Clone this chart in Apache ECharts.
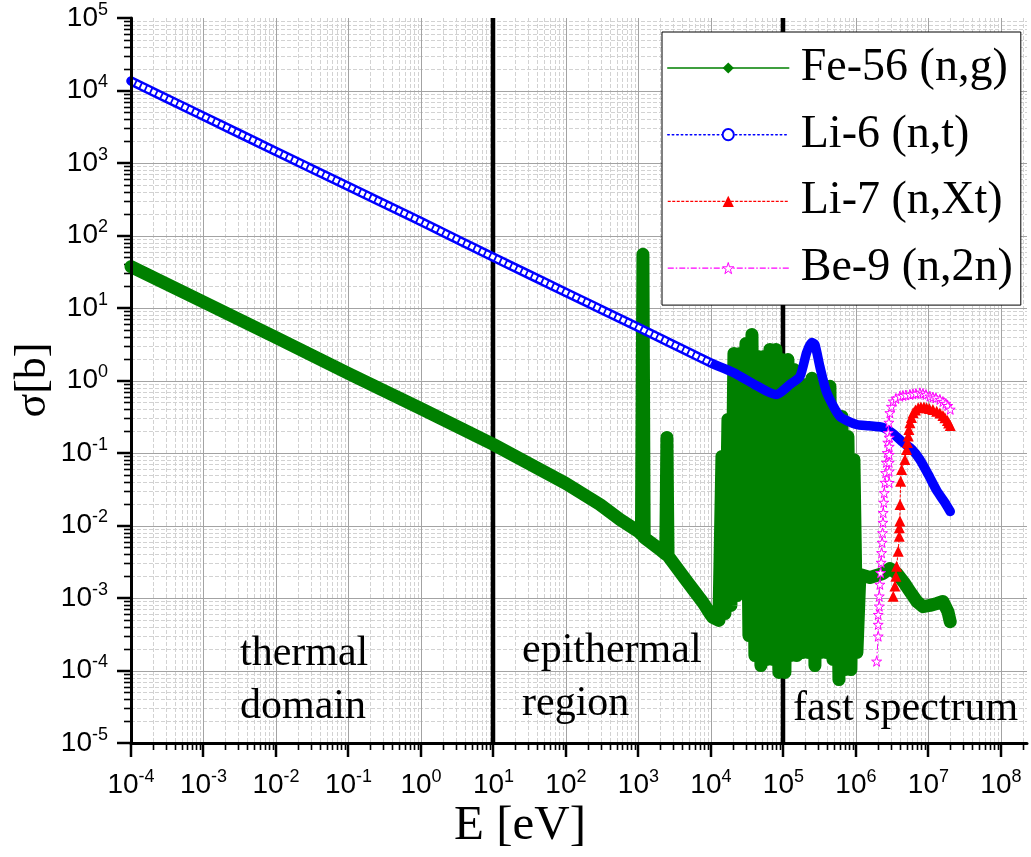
<!DOCTYPE html>
<html><head><meta charset="utf-8">
<script src="https://cdn.jsdelivr.net/npm/echarts@6/dist/echarts.min.js"></script>
<style>html,body{margin:0;padding:0;background:#fff}#c{width:1031px;height:857px}</style>
</head><body><div id="c"></div>
<script>
// ---------- data (energies in eV, cross sections in barn) ----------
const seriesNames = ['Fe-56 (n,g)', 'Li-6 (n,t)', 'Li-7 (n,Xt)', 'Be-9 (n,2n)'];

const feE = [1e-4, 1e-3, 1e-2, 0.1, 1, 10, 100, 294, 556, 1000, 1100, 1153, 1200, 1980, 2380, 2470, 2560, 4670, 7760, 9700,
  1.066e4, 1.289e4, 1.418e4, 1.560e4, 1.716e4, 1.888e4, 2.076e4, 2.284e4, 2.512e4, 2.763e4, 3.04e4, 3.34e4, 3.68e4, 4.04e4, 4.45e4, 4.89e4,
  5.38e4, 5.92e4, 6.51e4, 7.16e4, 7.88e4, 8.67e4, 9.53e4, 1.049e5, 1.154e5, 1.269e5, 1.396e5, 1.535e5, 1.689e5, 1.858e5, 2.043e5, 2.248e5,
  2.473e5, 2.72e5, 2.99e5, 3.29e5, 3.62e5, 3.98e5, 4.38e5, 4.82e5, 5.30e5, 5.83e5, 6.41e5, 7.05e5, 7.76e5, 8.53e5, 9.39e5, 1.032e6,
  1.135e6, 1.56e6, 2.36e6, 2.94e6, 3.68e6, 4.59e6, 5.56e6, 6.94e6, 8.40e6, 1.049e7, 1.31e7, 1.585e7, 1.858e7, 2.0e7];
const feS = [37.3, 12.1, 3.92, 1.25, 0.41, 0.131, 0.038, 0.0195, 0.0121, 0.00826, 0.0075, 55, 0.0068, 0.00467, 0.0040, 0.164, 0.0038, 0.00169, 0.000867, 0.00061,
  5.38e-4, 4.9e-4, 0.0895, 6.1e-4, 0.29, 7.9e-4, 2.36, 1.08e-3, 2.36, 1.8e-3, 3.24, 3.04e-4, 4.31, 1.61e-4, 2.14, 1.17e-4,
  2.14, 1.42e-4, 2.68, 1.42e-4, 2.68, 9.4e-5, 1.95, 9.4e-5, 1.95, 1.61e-4, 1.42, 1.61e-4, 0.83, 1.77e-4, 0.88, 1.77e-4,
  1.07, 1.17e-4, 0.83, 1.77e-4, 0.83, 1.77e-4, 0.83, 1.42e-4, 0.32, 7.5e-5, 0.32, 1.03e-4, 0.169, 1.03e-4, 0.081, 1.77e-4,
  2.11e-3, 1.92e-3, 2.18e-3, 2.55e-3, 2.18e-3, 1.64e-3, 1.23e-3, 8.95e-4, 7.6e-4, 7.9e-4, 8.4e-4, 8.95e-4, 6.5e-4, 4.7e-4];

const li6E = [1e-4, 1e-3, 1e-2, 0.1, 1, 10, 100, 1000, 1e4, 2.03e4, 4e4, 6e4, 8e4, 1.23e5, 1.69e5, 2.09e5, 2.45e5, 2.72e5, 3.18e5, 3.95e5,
  6.01e5, 1.02e6, 1.5e6, 2.36e6, 3.24e6, 4.45e6, 5.92e6, 7.63e6, 1e7, 1.31e7, 1.69e7, 2e7];
const li6S = [1.35e4, 4.42e3, 1.44e3, 474, 156, 50, 16.4, 5.38, 1.74, 1.29, 0.88, 0.705, 0.64, 0.88, 1.135, 2.43, 3.34, 3.14, 1.56, 0.683,
  0.319, 0.247, 0.238, 0.225, 0.186, 0.14, 0.112, 0.081, 0.05, 0.030, 0.0207, 0.0156];

const li7E = [3.27e6, 3.45e6, 3.56e6, 3.64e6, 3.83e6, 3.96e6, 3.98e6, 4.04e6, 4.06e6, 4.14e6, 4.27e6, 4.74e6, 5.0e6, 5.13e6, 5.27e6, 5.38e6,
  5.56e6, 5.83e6, 6.17e6, 6.62e6, 7.23e6, 7.88e6, 8.67e6, 9.44e6, 1.032e7, 1.153e7, 1.30e7, 1.44e7, 1.585e7, 1.69e7, 1.83e7, 1.9e7, 2.0e7];
const li7S = [1.06e-3, 1.46e-3, 2.0e-3, 2.75e-3, 4.42e-3, 7.1e-3, 9.3e-3, 0.0115, 0.0195, 0.0408, 0.0592, 0.0814, 0.112, 0.14, 0.171, 0.211,
  0.261, 0.309, 0.358, 0.392, 0.42, 0.431, 0.431, 0.42, 0.411, 0.398, 0.377, 0.356, 0.329, 0.306, 0.281, 0.26, 0.24];

const be9E = [1.93e6, 2.03e6, 2.03e6, 2.03e6, 2.10e6, 2.10e6, 2.14e6, 2.19e6, 2.23e6, 2.26e6, 2.30e6, 2.33e6, 2.36e6, 2.38e6, 2.42e6, 2.46e6,
  2.51e6, 2.57e6, 2.63e6, 2.70e6, 2.75e6, 2.79e6, 2.85e6, 2.94e6, 3.09e6, 3.27e6, 3.56e6, 4.04e6, 4.45e6, 4.89e6, 5.56e6, 6.11e6, 6.72e6,
  7.63e6, 8.40e6, 9.24e6, 1.049e7, 1.153e7, 1.27e7, 1.44e7, 1.585e7, 1.74e7, 1.85e7, 2.0e7];
const be9S = [1.34e-4, 2.97e-4, 4.31e-4, 5.9e-4, 7.7e-4, 1.06e-3, 1.54e-3, 2.23e-3, 3.09e-3, 4.2e-3, 5.83e-3, 7.9e-3, 0.011, 0.015, 0.0208, 0.0282,
  0.0392, 0.0533, 0.074, 0.1007, 0.14, 0.19, 0.264, 0.358, 0.438, 0.518, 0.565, 0.607, 0.621, 0.631, 0.641, 0.652, 0.662,
  0.676, 0.662, 0.641, 0.607, 0.592, 0.574, 0.547, 0.513, 0.482, 0.45, 0.40];
const be9ColE = [2.88e6, 2.88e6, 2.88e6, 2.88e6, 2.88e6, 2.88e6];
const be9ColS = [0.164, 0.123, 0.095, 0.074, 0.056, 0.039];

const xTickExp = [-4, -3, -2, -1, 0, 1, 2, 3, 4, 5, 6, 7, 8];
const yTickExp = [-5, -4, -3, -2, -1, 0, 1, 2, 3, 4, 5];
const regionBounds = [10, 1e5];
const regionLabels = [['thermal', 'domain'], ['epithermal', 'region'], ['fast spectrum']];

// ---------- build ----------
const X_MIN = -4, X_MAX = 8.36, Y_MIN = -5, Y_MAX = 5;
const lg = Math.log10;
const pts = (E, S) => E.map((e, i) => [lg(e), lg(S[i])]);

const gridItems = [];
xTickExp.forEach(n => gridItems.push([n, 0]));
xTickExp.forEach(n => { for (let k = 2; k <= 9; k++) { const v = n + lg(k); if (v < X_MAX) gridItems.push([v, 1]); } });
yTickExp.forEach(n => gridItems.push([n, 2]));
yTickExp.forEach(n => { for (let k = 2; k <= 9; k++) { const v = n + lg(k); if (v < Y_MAX) gridItems.push([v, 3]); } });
regionBounds.forEach(e => gridItems.push([lg(e), 4]));

function renderGrid(params, api) {
  const cs = params.coordSys;
  const L = cs.x, T = cs.y, R = cs.x + cs.width, B = cs.y + cs.height;
  const pos = api.value(0), kind = api.value(1);
  const ch = [];
  if (kind === 0 || kind === 1 || kind === 4) {
    const x = api.coord([pos, 0])[0];
    const xr = Math.round(x) + 0.5;
    if (kind === 4) {
      ch.push({type: 'line', shape: {x1: Math.round(x), y1: T, x2: Math.round(x), y2: B}, style: {stroke: '#000', lineWidth: 4.5}, z2: 10});
    } else if (kind === 0) {
      if (pos > X_MIN + 1e-6) ch.push({type: 'line', shape: {x1: xr, y1: T, x2: xr, y2: B}, style: {stroke: '#a3a3a3', lineWidth: 1}, z2: 2});
      ch.push({type: 'line', shape: {x1: Math.round(x), y1: B, x2: Math.round(x), y2: B + 14}, style: {stroke: '#000', lineWidth: 2.5}});
    } else {
      ch.push({type: 'line', shape: {x1: xr, y1: T, x2: xr, y2: B}, style: {stroke: '#d2d2d2', lineWidth: 1, lineDash: [4, 2]}, z2: 1});
      ch.push({type: 'line', shape: {x1: xr, y1: B, x2: xr, y2: B + 7}, style: {stroke: '#000', lineWidth: 1.6}});
    }
  } else {
    const y = api.coord([0, pos])[1];
    const yr = Math.round(y) + 0.5;
    if (kind === 2) {
      if (pos > Y_MIN + 1e-6 && pos < Y_MAX - 1e-6) ch.push({type: 'line', shape: {x1: L, y1: yr, x2: R, y2: yr}, style: {stroke: '#a3a3a3', lineWidth: 1}, z2: 2});
      ch.push({type: 'line', shape: {x1: L - 14, y1: Math.round(y), x2: L, y2: Math.round(y)}, style: {stroke: '#000', lineWidth: 2.5}});
    } else {
      ch.push({type: 'line', shape: {x1: L, y1: yr, x2: R, y2: yr}, style: {stroke: '#d2d2d2', lineWidth: 1, lineDash: [4, 2]}, z2: 1});
      ch.push({type: 'line', shape: {x1: L - 7, y1: yr, x2: L, y2: yr}, style: {stroke: '#000', lineWidth: 1.6}});
    }
  }
  return {type: 'group', children: ch};
}

const starPath = 'path://M50,0 L61,35 L98,35 L68,57 L79,91 L50,70 L21,91 L32,57 L2,35 L39,35 Z';
const labFmt = v => { const n = Math.round(v); if (Math.abs(v - n) > 1e-6) return ''; return '{b|10}{s|' + n + '}'; };
const labRich = {
  b: {fontFamily: 'Liberation Sans', fontSize: 28, lineHeight: 34, color: '#000'},
  s: {fontFamily: 'Liberation Sans', fontSize: 18, lineHeight: 14, verticalAlign: 'top', color: '#000'}
};
const serif = '"Liberation Serif", serif';

const texts = [];
const regionPos = [[240, 654], [522, 651], [793, 709]];
regionLabels.forEach((lines, i) => lines.forEach((t, j) => texts.push({
  type: 'text', x: regionPos[i][0], y: regionPos[i][1] + j * 53, z: 50,
  style: {text: t, font: '42px ' + serif, fill: '#000', align: 'left', verticalAlign: 'middle'}
})));
texts.push({type: 'text', x: 520, y: 826, z: 50, style: {text: 'E [eV]', font: '49px ' + serif, fill: '#000', align: 'center', verticalAlign: 'middle'}});
texts.push({type: 'text', x: 33, y: 380, rotation: Math.PI / 2, z: 50, style: {text: 'σ[b]', font: '44px ' + serif, fill: '#000', align: 'center', verticalAlign: 'middle'}});

const option = {
  animation: false,
  backgroundColor: '#fff',
  grid: {left: 131, right: 4, top: 18, bottom: 114, containLabel: false},
  xAxis: {type: 'value', min: X_MIN, max: X_MAX, interval: 1, z: 5,
    axisLine: {show: true, onZero: false, lineStyle: {color: '#000', width: 3}}, axisTick: {show: false}, splitLine: {show: false},
    axisLabel: {margin: 25, formatter: labFmt, rich: labRich, showMaxLabel: false}},
  yAxis: {type: 'value', min: Y_MIN, max: Y_MAX, interval: 1, z: 5,
    axisLine: {show: true, onZero: false, lineStyle: {color: '#000', width: 3}}, axisTick: {show: false}, splitLine: {show: false},
    axisLabel: {margin: 23, formatter: labFmt, rich: labRich}},
  legend: {
    orient: 'vertical', left: 662, top: 32, padding: [10, 8, 11, 5], itemWidth: 121, itemHeight: 14, itemGap: 14.7,
    backgroundColor: '#fff', borderColor: '#000', borderWidth: 1, z: 20, selectedMode: false,
    textStyle: {fontFamily: 'Liberation Serif', fontSize: 46, lineHeight: 52, color: '#000', padding: [0, 0, 0, 7]},
    data: [
      {name: seriesNames[0], lineStyle: {width: 1.5, type: 'solid', color: '#008000'}, itemStyle: {color: '#008000', borderWidth: 0}},
      {name: seriesNames[1], lineStyle: {width: 1.5, type: [1.5, 3], color: '#0000ff'}},
      {name: seriesNames[2], lineStyle: {width: 1.2, type: [3, 1.5], color: '#ff0000'}, itemStyle: {color: '#ff0000', borderWidth: 0}},
      {name: seriesNames[3], lineStyle: {width: 1.2, type: [6, 2, 1.5, 2], color: '#ff00ff'}, itemStyle: {color: '#fff', borderColor: '#ff00ff', borderWidth: 1}}
    ]
  },
  graphic: texts,
  series: [
    {type: 'custom', name: '_grid', coordinateSystem: 'cartesian2d', z: 1, silent: true, data: gridItems, renderItem: renderGrid, clip: false},
    {type: 'line', name: seriesNames[0], data: pts(feE, feS), z: 3, symbol: 'diamond', showSymbol: false,
      itemStyle: {color: '#008000'}, lineStyle: {color: '#008000', width: 13, cap: 'round', join: 'round'}},
    {type: 'line', name: seriesNames[1], data: pts(li6E, li6S), z: 4, symbol: 'emptyCircle', showSymbol: false, smooth: 0.2,
      itemStyle: {color: '#0000ff'}, lineStyle: {color: '#0000ff', width: 9.5, cap: 'round', join: 'round'}},
    {type: 'line', name: '_li6core', data: pts(li6E.slice(0, 9), li6S.slice(0, 9)), z: 4, showSymbol: false, silent: true,
      lineStyle: {color: '#ffffff', width: 4.5, type: [4, 1.8]}},
    {type: 'line', name: seriesNames[2], data: pts(li7E, li7S), z: 5, symbol: 'triangle', symbolSize: 11, showSymbol: true,
      itemStyle: {color: '#ff0000'}, lineStyle: {color: '#ff0000', width: 1, type: [3, 1.5]}},
    {type: 'line', name: seriesNames[3], data: pts(be9E, be9S), z: 6, symbol: starPath, symbolSize: 10, showSymbol: true,
      itemStyle: {color: '#ffffff', borderColor: '#ff00ff', borderWidth: 1}, lineStyle: {color: '#ff00ff', width: 1, type: [6, 2, 1.5, 2]}},
    {type: 'line', name: '_be9col', data: pts(be9ColE, be9ColS), z: 6, symbol: starPath, symbolSize: 10, showSymbol: true,
      itemStyle: {color: '#ffffff', borderColor: '#ff00ff', borderWidth: 1}, lineStyle: {color: '#ff00ff', width: 1, type: [6, 2, 1.5, 2]}}
  ]
};
const chart = echarts.init(document.getElementById('c'), null, {renderer: 'canvas'});
chart.setOption(option);
</script>
</body></html>
